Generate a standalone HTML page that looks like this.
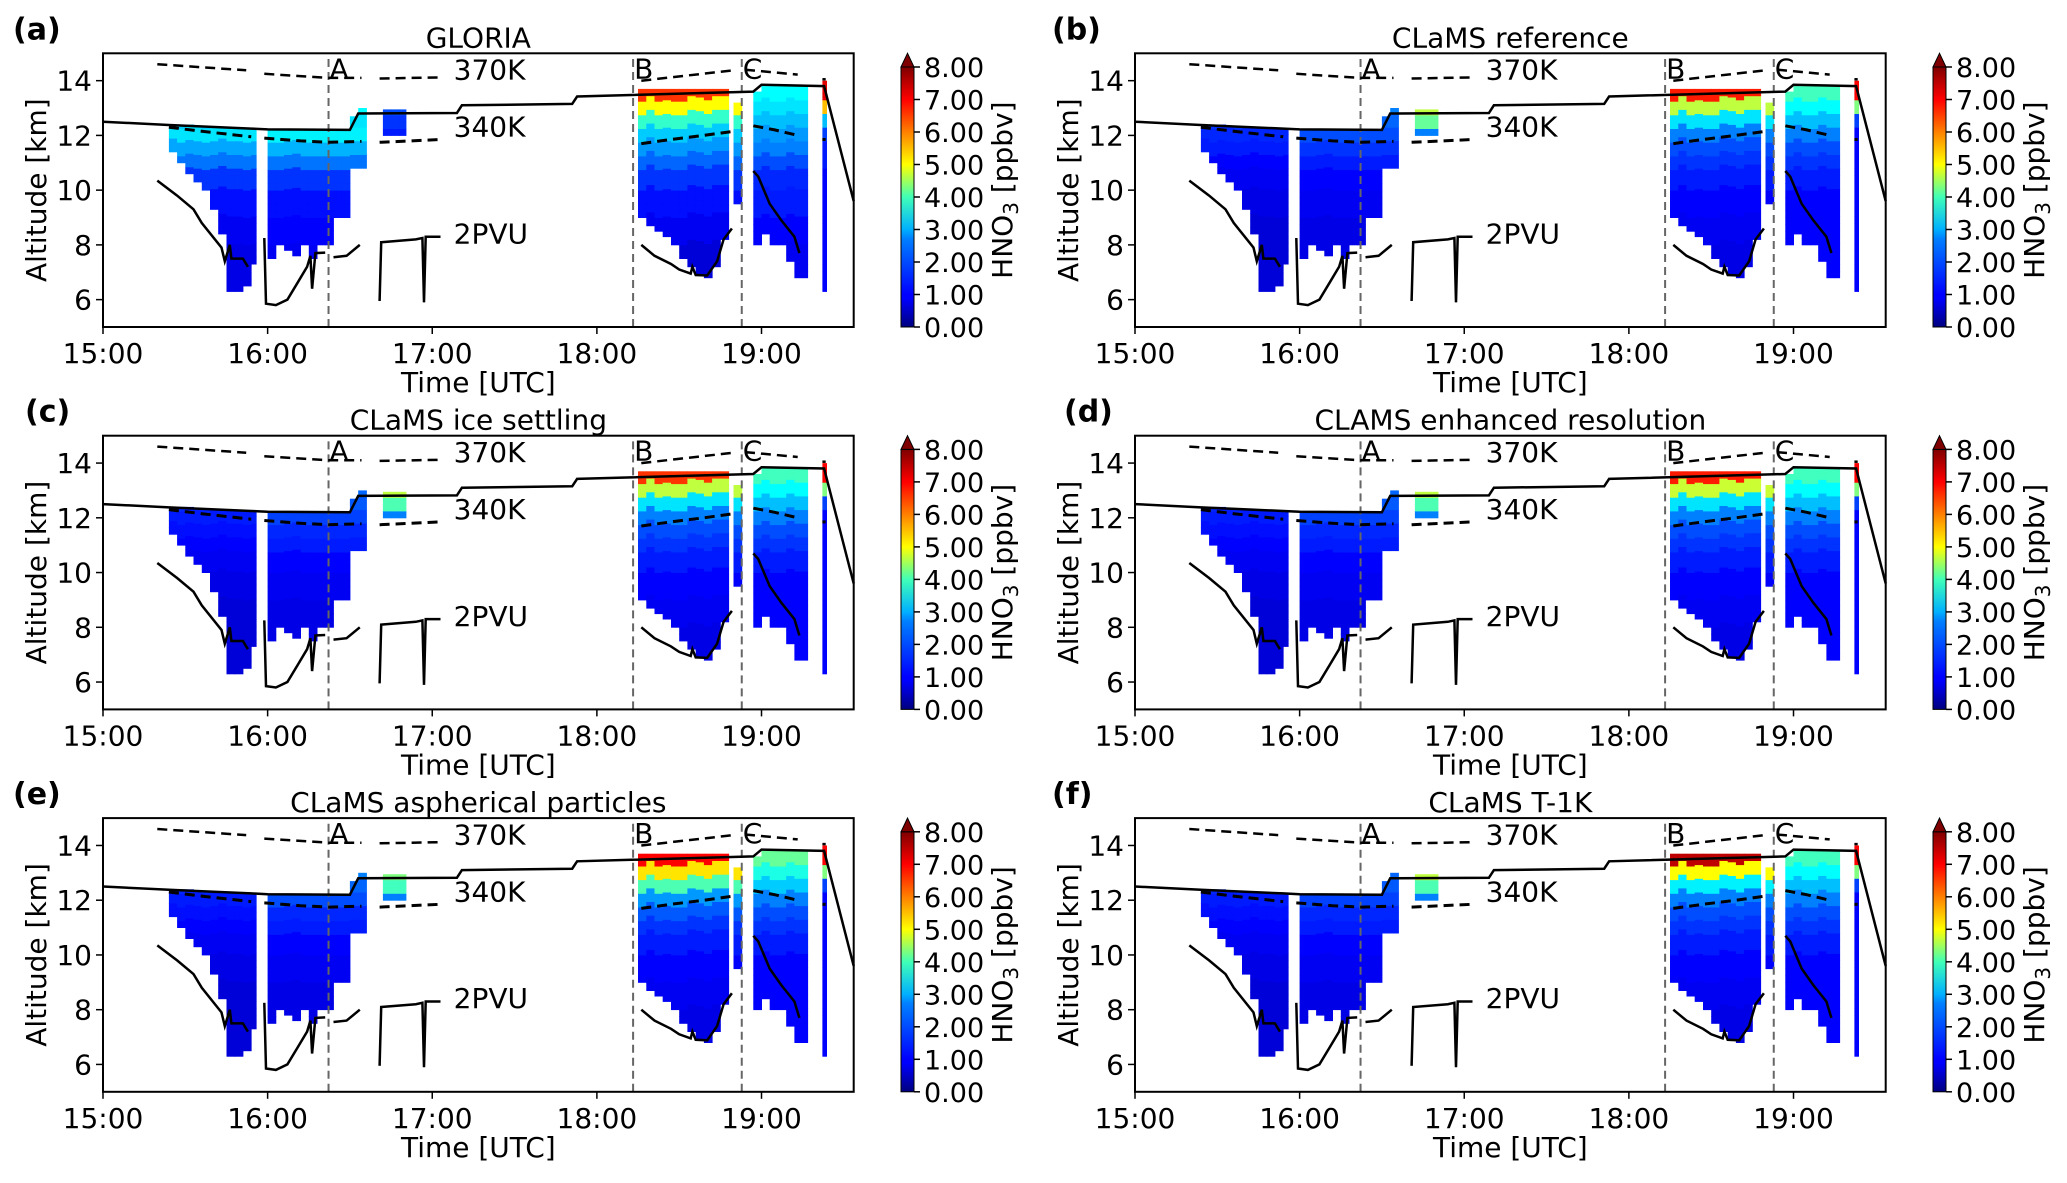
<!DOCTYPE html>
<html><head><meta charset="utf-8">
<style>
html,body{margin:0;padding:0;background:#fff;}
svg text{font-family:"DejaVu Sans","Liberation Sans",sans-serif;fill:#000;}
</style></head>
<body>
<svg id="fig" xmlns="http://www.w3.org/2000/svg" width="2067" height="1178" viewBox="0 0 2067 1178">
<defs>
<linearGradient id="jet" x1="0" y1="1" x2="0" y2="0">
<stop offset="0" stop-color="#00007f"/><stop offset="0.11" stop-color="#0000ff"/><stop offset="0.125" stop-color="#0000ff"/>
<stop offset="0.34" stop-color="#0080ff"/><stop offset="0.375" stop-color="#00b0ff"/><stop offset="0.5" stop-color="#40ffb7"/>
<stop offset="0.625" stop-color="#ffff00"/><stop offset="0.75" stop-color="#ff8000"/><stop offset="0.875" stop-color="#ff0000"/>
<stop offset="1" stop-color="#7f0000"/></linearGradient>
</defs>
</svg>
<script>
// ---- shared data ----
const panelLetters = ['(a)','(b)','(c)','(d)','(e)','(f)'];
const panelTitles = ['GLORIA','CLaMS reference','CLaMS ice settling','CLAMS enhanced resolution','CLaMS aspherical particles','CLaMS T-1K'];
const xTicks = [15,16,17,18,19];
const xTickLabels = ['15:00','16:00','17:00','18:00','19:00'];
const yTicks = [6,8,10,12,14];
const cbTicks = [0,1,2,3,4,5,6,7,8];
const cbTickLabels = ['0.00','1.00','2.00','3.00','4.00','5.00','6.00','7.00','8.00'];
// heatmap columns (hour start, width, bottom km, top km, region)
const colT   = [15.40,15.45,15.50,15.55,15.60,15.65,15.70,15.75,15.80,15.85,15.90, 16.00,16.05,16.10,16.15,16.20,16.25,16.30,16.35,16.40,16.45,16.50,16.55, 16.70,16.75,16.80, 18.25,18.30,18.35,18.40,18.45,18.50,18.55,18.60,18.65,18.70,18.75,18.83, 18.95,19.00,19.05,19.10,19.15,19.20,19.25, 19.37];
const colW   = [0.05,0.05,0.05,0.05,0.05,0.05,0.05,0.05,0.05,0.05,0.03, 0.05,0.05,0.05,0.05,0.05,0.05,0.05,0.05,0.05,0.05,0.05,0.05, 0.05,0.05,0.04, 0.05,0.05,0.05,0.05,0.05,0.05,0.05,0.05,0.05,0.05,0.05,0.05, 0.05,0.05,0.05,0.05,0.05,0.05,0.03, 0.025];
const colBot = [11.4,11.0,10.6,10.3,10.0,9.3,8.4,6.3,6.3,6.5,7.3, 7.5,8.0,7.8,7.6,8.0,7.5,8.0,8.0,9.0,9.0,10.8,10.8, 12.0,12.0,12.0, 9.0,8.7,8.5,8.3,8.0,7.5,7.2,6.9,6.8,7.2,8.2,9.5, 8.0,8.4,8.0,8.0,7.4,6.8,6.8, 6.3];
const colTop = [12.4,12.4,12.4,12.35,12.3,12.3,12.3,12.3,12.25,12.25,12.25, 12.2,12.2,12.2,12.2,12.2,12.2,12.2,12.2,12.2,12.2,12.7,13.0, 12.95,12.95,12.95, 13.7,13.7,13.7,13.7,13.7,13.7,13.7,13.7,13.7,13.7,13.7,13.2, 13.6,13.8,13.8,13.8,13.8,13.8,13.8, 14.0];
const colReg = [0,0,0,0,0,0,0,0,0,0,0, 1,1,1,1,1,1,1,1,1,1,1,1, 2,2,2, 3,3,3,3,3,3,3,3,3,3,3,3, 4,4,4,4,4,4,4, 5];
// profile altitude levels (value applies for altitude >= level)
const profAlt = [13.25,12.75,12.25,11.75,11.25,10.75,10.0,9.0,8.0,7.0,5.0];
// HNO3 profiles [panel][region] in ppbv
const profA = [[2.5,2.5,2.6,2.8,2.3,1.9,1.4,1.1,0.9,0.8,0.8],[3.0,3.0,2.8,2.9,2.4,1.9,1.4,1.1,1.0,0.9,0.9],[1.6,1.6,1.4,1.2,1,1,1,1,1,1,1],[6.6,5.0,3.4,2.6,2.2,1.8,1.4,1.1,0.9,0.7,0.7],[3.0,2.8,2.5,2.2,2.0,1.6,1.3,1.2,1.0,0.9,0.9],[7.2,5.5,2.5,1.5,1.2,1.2,1.0,1.0,1.0,1.0,1.0]];
const profB = [[1.5,1.5,1.4,1.3,1.2,1.0,0.9,0.8,0.7,0.7,0.7],[2.0,2.0,1.8,1.6,1.4,1.2,1.0,0.9,0.8,0.8,0.8],[4.5,4.5,3.8,2.0,1,1,1,1,1,1,1],[6.8,4.5,2.8,2.0,1.6,1.4,1.2,1.0,0.9,0.8,0.8],[3.5,3.0,2.5,2.0,1.6,1.4,1.2,1.0,1.0,1.0,1.0],[7.0,4.0,1.5,1.0,1.0,1.0,1.0,1.0,1.0,1.0,1.0]];
const profC = [[1.3,1.3,1.3,1.2,1.1,1.0,0.9,0.8,0.7,0.7,0.7],[1.8,1.8,1.7,1.5,1.3,1.2,1.0,0.9,0.8,0.8,0.8],[4.5,4.5,3.6,2.0,1,1,1,1,1,1,1],[6.6,4.5,2.8,2.0,1.6,1.4,1.2,1.0,0.9,0.8,0.8],[3.5,3.0,2.5,2.0,1.6,1.4,1.2,1.0,1.0,1.0,1.0],[7.0,4.0,1.5,1.0,1.0,1.0,1.0,1.0,1.0,1.0,1.0]];
const profD = [[1.3,1.3,1.3,1.2,1.1,1.0,0.9,0.8,0.7,0.7,0.7],[1.8,1.8,1.7,1.5,1.3,1.2,1.0,0.9,0.8,0.8,0.8],[4.5,4.5,3.6,2.0,1,1,1,1,1,1,1],[6.8,4.6,2.8,2.0,1.6,1.4,1.2,1.0,0.9,0.8,0.8],[3.5,3.0,2.5,2.0,1.6,1.4,1.2,1.0,1.0,1.0,1.0],[7.0,4.0,1.5,1.0,1.0,1.0,1.0,1.0,1.0,1.0,1.0]];
const profE = [[1.3,1.3,1.3,1.2,1.1,1.0,0.9,0.8,0.7,0.7,0.7],[2.0,2.0,1.8,1.6,1.3,1.2,1.0,0.9,0.8,0.8,0.8],[4.0,4.0,3.5,2.0,1,1,1,1,1,1,1],[7.0,5.2,3.6,2.2,1.7,1.4,1.2,1.0,0.9,0.8,0.8],[3.8,3.2,2.6,2.0,1.6,1.4,1.2,1.0,1.0,1.0,1.0],[7.0,4.0,1.5,1.0,1.0,1.0,1.0,1.0,1.0,1.0,1.0]];
const profF = [[1.3,1.3,1.3,1.2,1.1,1.0,0.9,0.8,0.7,0.7,0.7],[1.8,1.8,1.7,1.5,1.3,1.2,1.0,0.9,0.8,0.8,0.8],[4.5,4.5,3.6,2.0,1,1,1,1,1,1,1],[7.5,5.0,2.9,2.0,1.6,1.4,1.2,1.0,0.9,0.8,0.8],[3.5,3.0,2.5,2.0,1.6,1.4,1.2,1.0,1.0,1.0,1.0],[7.0,4.0,1.5,1.0,1.0,1.0,1.0,1.0,1.0,1.0,1.0]];
const panelProfiles = [profA,profB,profC,profD,profE,profF];
// lines: [hour, km]
const flightT = [15.0,15.4,15.9,16.0,16.5,16.55,17.15,17.18,17.85,17.88,18.95,19.0,19.38,19.56];
const flightZ = [12.5,12.38,12.25,12.22,12.2,12.8,12.82,13.1,13.15,13.42,13.6,13.85,13.8,9.6];
const th370 = [[[15.33,14.6],[15.87,14.38]],[[15.98,14.25],[16.37,14.1],[16.57,14.1]],[[16.68,14.08],[17.05,14.12]],[[18.27,14.0],[18.83,14.38]],[[18.9,14.4],[19.22,14.22]],[[19.37,14.05],[19.39,14.05]]];
const th340 = [[[15.4,12.3],[15.6,12.15],[15.9,11.95]],[[15.98,11.9],[16.2,11.8],[16.37,11.75],[16.57,11.78]],[[16.68,11.75],[17.05,11.85]],[[18.27,11.7],[18.45,11.85],[18.65,12.0],[18.83,12.15]],[[18.95,12.35],[19.08,12.2],[19.22,12.0]],[[19.37,11.85],[19.39,11.85]]];
const pv2 = [[[15.33,10.35],[15.45,9.8],[15.55,9.3],[15.6,8.8],[15.72,7.9],[15.74,7.4],[15.77,8.0],[15.78,7.5],[15.85,7.5],[15.88,7.2]],
 [[15.98,8.25],[15.99,5.85],[16.05,5.8],[16.12,6.0],[16.18,6.6],[16.24,7.2],[16.26,7.6],[16.27,6.4],[16.29,7.7],[16.35,7.72]],
 [[16.4,7.55],[16.48,7.6],[16.56,8.0]],
 [[16.68,5.95],[16.69,8.1],[16.9,8.2],[16.94,8.25],[16.95,5.9],[16.96,8.3],[17.05,8.3]],
 [[18.27,8.0],[18.35,7.6],[18.45,7.3],[18.5,7.1],[18.57,6.95],[18.58,7.2],[18.6,6.9],[18.67,6.88],[18.73,7.4],[18.77,8.2],[18.82,8.6]],
 [[18.95,10.7],[18.98,10.5],[19.05,9.5],[19.12,8.9],[19.2,8.3],[19.23,7.7]]];
const markerT = [16.37,18.22,18.88];
const markerLbl = ['A','B','C'];
const isoLbl = ['370K','340K','2PVU'];
const isoLblZ = [14.4,12.32,8.42];
const isoLblT = 17.13;

// ---- rendering ----
const NS='http://www.w3.org/2000/svg';
const svg=document.getElementById('fig');
function mk(tag,attrs,parent){const e=document.createElementNS(NS,tag);for(const k in attrs)e.setAttribute(k,attrs[k]);(parent||svg).appendChild(e);return e;}
function jet(v){let t=Math.max(0,Math.min(1,v/8));
 const r=Math.max(0,Math.min(1,1.5-Math.abs(4*t-3))),g=Math.max(0,Math.min(1,1.5-Math.abs(4*t-2))),b=Math.max(0,Math.min(1,1.5-Math.abs(4*t-1)));
 return 'rgb('+Math.round(r*255)+','+Math.round(g*255)+','+Math.round(b*255)+')';}

const FS=28;
const L=103, R=853.7, T=53.3, B=327, DX=1032, DY=382.4;
for(let p=0;p<6;p++){
 const ox=(p%2)*DX, oy=Math.floor(p/2)*DY;
 const X=h=>ox+L+(h-15)*(R-L)/4.56;
 const Y=z=>oy+B-(z-5)*(B-T)/10;
 const g=mk('g',{});
 
 
 const hm=mk('g',{},g);
 
 
 const prof=panelProfiles[p];
 for(let c=0;c<colT.length;c++){
  const pr=prof[colReg[c]];
  const step=0.25;
  for(let z=colBot[c]; z<colTop[c]-1e-6; z+=step){
   const z1=Math.min(z+step,colTop[c]);
   let k=profAlt.findIndex(a=>z>=a-1e-6); if(k<0)k=profAlt.length-1;
   const r=mk('rect',{x:X(colT[c]).toFixed(1),y:Y(z1).toFixed(1),width:(X(colT[c]+colW[c])-X(colT[c])+0.5).toFixed(1),height:(Y(z)-Y(z1)+0.5).toFixed(1),fill:jet(pr[k])},hm);
   
   
  }
 }
 for(let i=0;i<markerT.length;i++){
  const l=mk('line',{x1:X(markerT[i]),x2:X(markerT[i]),y1:Y(5),y2:Y(15),stroke:'#666','stroke-width':2,'stroke-dasharray':'8,5'},g);
  
  
  const t=mk('text',{x:X(markerT[i])+1,y:Y(15)+25,'font-size':FS},g);t.textContent=markerLbl[i];
  
  
 }
 const path=pts=>pts.map((q,i)=>(i?'L':'M')+X(q[0]).toFixed(1)+' '+Y(q[1]).toFixed(1)).join(' ');
 const fp=mk('path',{d:path(flightT.map((t,i)=>[t,flightZ[i]])),fill:'none',stroke:'#000','stroke-width':2.5},g);
 
 
 for(const seg of th370){const e=mk('path',{d:path(seg),fill:'none',stroke:'#000','stroke-width':2.5,'stroke-dasharray':'10,6'},g);
  
  }
 for(const seg of th340){const e=mk('path',{d:path(seg),fill:'none',stroke:'#000','stroke-width':3,'stroke-dasharray':'10,6'},g);
  
  }
 for(const seg of pv2){const e=mk('path',{d:path(seg),fill:'none',stroke:'#000','stroke-width':2.5},g);
  
  }
 for(let i=0;i<3;i++){const t=mk('text',{x:X(isoLblT),y:Y(isoLblZ[i])+10,'font-size':FS},g);t.textContent=isoLbl[i];
  
  }
 const fr=mk('rect',{x:ox+L,y:oy+T,width:R-L,height:B-T,fill:'none',stroke:'#000','stroke-width':2},g);
 
 
 for(let i=0;i<xTicks.length;i++){const x=X(xTicks[i]);
  mk('line',{x1:x,x2:x,y1:oy+B,y2:oy+B+7,stroke:'#000','stroke-width':1.5},g);
  const t=mk('text',{x:x,y:oy+B+36,'font-size':FS,'text-anchor':'middle'},g);t.textContent=xTickLabels[i];
  
  }
 for(let i=0;i<yTicks.length;i++){const y=Y(yTicks[i]);
  mk('line',{x1:ox+L-7,x2:ox+L,y1:y,y2:y,stroke:'#000','stroke-width':1.5},g);
  const t=mk('text',{x:ox+L-11,y:y+10,'font-size':FS,'text-anchor':'end'},g);t.textContent=yTicks[i];
  
  }
 const xl=mk('text',{x:ox+(L+R)/2,y:oy+B+65,'font-size':FS,'text-anchor':'middle'},g);xl.textContent='Time [UTC]';
 
 
 const yl=mk('text',{x:0,y:0,'font-size':FS,'text-anchor':'middle',transform:'translate('+(ox+46)+','+(oy+(T+B)/2)+') rotate(-90)'},g);yl.textContent='Altitude [km]';
 
 
 const tt=mk('text',{x:ox+(L+R)/2,y:oy+T-6,'font-size':FS,'text-anchor':'middle'},g);tt.textContent=panelTitles[p];
 
 
 const pl=mk('text',{x:ox+(p%2?20:13)+(Math.floor(p/2)==1?12:0),y:oy+T-14,'font-size':30,'font-weight':'bold'},g);pl.textContent=panelLetters[p];
 
 
 const cx=ox+901, cw=13, cTop=oy+67, cBot=oy+B;
 const cb=mk('rect',{x:cx,y:cTop,width:cw,height:cBot-cTop,fill:'url(#jet)',stroke:'#000','stroke-width':1},g);
 
 
 const tri=mk('path',{d:'M'+cx+' '+cTop+' L'+(cx+cw/2)+' '+(oy+T)+' L'+(cx+cw)+' '+cTop+' Z',fill:'#7f0000',stroke:'#000','stroke-width':1},g);
 
 
 for(let i=0;i<cbTicks.length;i++){const y=cBot-(cbTicks[i]/8)*(cBot-cTop);
  mk('line',{x1:cx+cw,x2:cx+cw+6,y1:y,y2:y,stroke:'#000','stroke-width':1.5},g);
  const t=mk('text',{x:cx+23,y:y+10,'font-size':27},g);t.textContent=cbTickLabels[i];
  
  }
 const cl=mk('text',{x:0,y:0,'font-size':FS,'text-anchor':'middle',transform:'translate('+(ox+1012)+','+(oy+(T+B)/2)+') rotate(-90)'},g);
 
 
 cl.appendChild(document.createTextNode('HNO'));
 const sub=mk('tspan',{'font-size':20,dy:6},cl);sub.textContent='3';
 const rest=mk('tspan',{dy:-6},cl);rest.textContent=' [ppbv]';
}
</script>
</body></html>
